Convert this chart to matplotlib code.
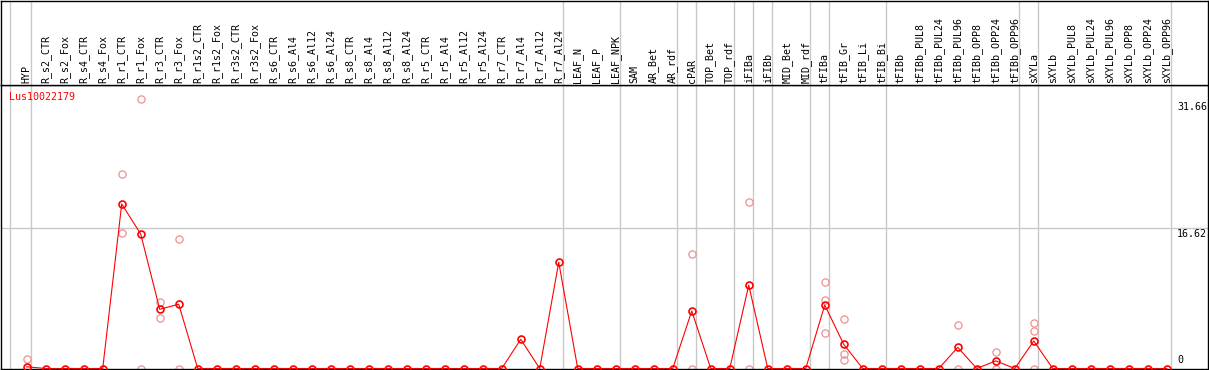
import numpy as np
import matplotlib.pyplot as plt

# expression profile, values
gene = 'Lus10022179'

categories = [
    'HYP', 'R_s2_CTR', 'R_s2_Fox', 'R_s4_CTR', 'R_s4_Fox', 'R_r1_CTR', 'R_r1_Fox',
    'R_r3_CTR', 'R_r3_Fox', 'R_r1s2_CTR', 'R_r1s2_Fox', 'R_r3s2_CTR', 'R_r3s2_Fox',
    'R_s6_CTR', 'R_s6_Al4', 'R_s6_Al12', 'R_s6_Al24', 'R_s8_CTR', 'R_s8_Al4',
    'R_s8_Al12', 'R_s8_Al24', 'R_r5_CTR', 'R_r5_Al4', 'R_r5_Al12', 'R_r5_Al24',
    'R_r7_CTR', 'R_r7_Al4', 'R_r7_Al12', 'R_r7_Al24', 'LEAF_N', 'LEAF_P', 'LEAF_NPK',
    'SAM', 'AR_Bet', 'AR_rdf', 'cPAR', 'TOP_Bet', 'TOP_rdf', 'iFIBa', 'iFIBb',
    'MID_Bet', 'MID_rdf', 'tFIBa', 'tFIB_Gr', 'tFIB_Li', 'tFIB_Bi', 'tFIBb',
    'tFIBb_PUL8', 'tFIBb_PUL24', 'tFIBb_PUL96', 'tFIBb_OPP8', 'tFIBb_OPP24',
    'tFIBb_OPP96', 'sXYLa', 'sXYLb', 'sXYLb_PUL8', 'sXYLb_PUL24', 'sXYLb_PUL96',
    'sXYLb_OPP8', 'sXYLb_OPP24', 'sXYLb_OPP96',
]

means = [
    0.2, 0, 0, 0, 0, 19.46, 15.9, 7.0, 7.6,
    0, 0, 0, 0, 0, 0, 0, 0, 0, 0, 0, 0, 0, 0, 0, 0, 0,
    3.45, 0, 12.56,
    0, 0, 0, 0, 0, 0,
    6.8, 0, 0, 9.85, 0, 0, 0,
    7.5, 2.85, 0, 0, 0, 0, 0,
    2.5, 0, 0.9, 0, 3.25,
    0, 0, 0, 0, 0, 0, 0,
]

# individual replicates (light circles)
rep_categories = ['HYP', 'R_r1_CTR', 'R_r1_CTR', 'R_r1_Fox', 'R_r1_Fox',
                  'R_r3_CTR', 'R_r3_CTR', 'R_r3_Fox', 'R_r3_Fox',
                  'cPAR', 'cPAR', 'iFIBa', 'iFIBa',
                  'tFIBa', 'tFIBa', 'tFIBa', 'tFIB_Gr', 'tFIB_Gr', 'tFIB_Gr',
                  'tFIBb_PUL96', 'tFIBb_PUL96', 'tFIBb_OPP24', 'tFIBb_OPP24',
                  'sXYLa', 'sXYLa', 'sXYLa']
rep_values = [1.1, 23.0, 16.0, 31.9, 0,
              7.9, 6.0, 15.3, 0,
              13.6, 0, 19.75, 0,
              10.2, 8.1, 4.2, 5.8, 1.7, 1.0,
              5.1, 0, 1.9, 0,
              5.37, 4.4, 0]

# last category of each group (gray separators)
group_ends = ['HYP', 'R_r7_Al24', 'LEAF_NPK', 'AR_rdf', 'cPAR', 'TOP_rdf', 'iFIBa',
              'iFIBb', 'MID_rdf', 'tFIBa', 'tFIB_Bi', 'tFIBb_OPP96', 'sXYLa',
              'sXYLb_OPP96']

y_labels = [0, 16.62, 31.66]

W, H = 1209, 370
mono = 'DejaVu Sans Mono'
grid_col = '#c8c8c8'

def px_axes(left, top, right, bottom):
    return [left / W, 1 - bottom / H, (right - left) / W, (bottom - top) / H]

fig = plt.figure(figsize=(W / 100, H / 100), dpi=100)
ax = fig.add_axes(px_axes(1, 85, 1208, 368.5))
ax_top = fig.add_axes(px_axes(1, 0.5, 1208, 85))

x = np.arange(len(categories))
xlim = (-1.353, 62.17)
idx = {c: i for i, c in enumerate(categories)}

for a in (ax, ax_top):
    a.set_xlim(xlim)
    a.set_xticks([])
    a.set_yticks([])
    for s in a.spines.values():
        s.set_color('black')
        s.set_linewidth(1.0)
    # group separators
    a.axvline(-0.86, color=grid_col, lw=1, zorder=0)
    for g in group_ends:
        a.axvline(idx[g] + 0.23, color=grid_col, lw=1, zorder=0)

ax_top.set_ylim(0, 1)
ax.set_ylim(0, 33.53)
ax.axhline(16.62, color=grid_col, lw=1, zorder=0)

# category labels
for i, c in enumerate(categories):
    ax_top.text(i, 2 / 84.5, c, rotation=90, ha='center', va='bottom',
                fontsize=7.2, family=mono, transform=ax_top.get_xaxis_transform())

# replicates, mean line and mean markers
rep_x = [idx[c] for c in rep_categories]
ax.plot(rep_x, rep_values, 'o', mfc='none', mec='#ee9090', ms=5.2, mew=0.9, zorder=2)
ax.plot(x, means, color='red', lw=0.8, zorder=3)
ax.plot(x, means, 'o', mfc='none', mec='red', ms=5, mew=1.2, zorder=4)

ax.text(8.3 / 1207, (368.5 - 97) / 283.5, gene, color='red', fontsize=7.2,
        family=mono, ha='left', va='center', transform=ax.transAxes)

# value labels on the right
for v in y_labels:
    if v == 0:
        ax.annotate('{:g}'.format(v), xy=(0.9743, v), xycoords=('axes fraction', 'data'),
                    xytext=(0, 2.5), textcoords='offset points', va='bottom', ha='left',
                    fontsize=7.2, family=mono)
    else:
        ax.annotate('{:g}'.format(v), xy=(0.9743, v), xycoords=('axes fraction', 'data'),
                    xytext=(0, -1.0), textcoords='offset points', va='top', ha='left',
                    fontsize=7.2, family=mono)

fig.savefig('out.png', dpi=100)
